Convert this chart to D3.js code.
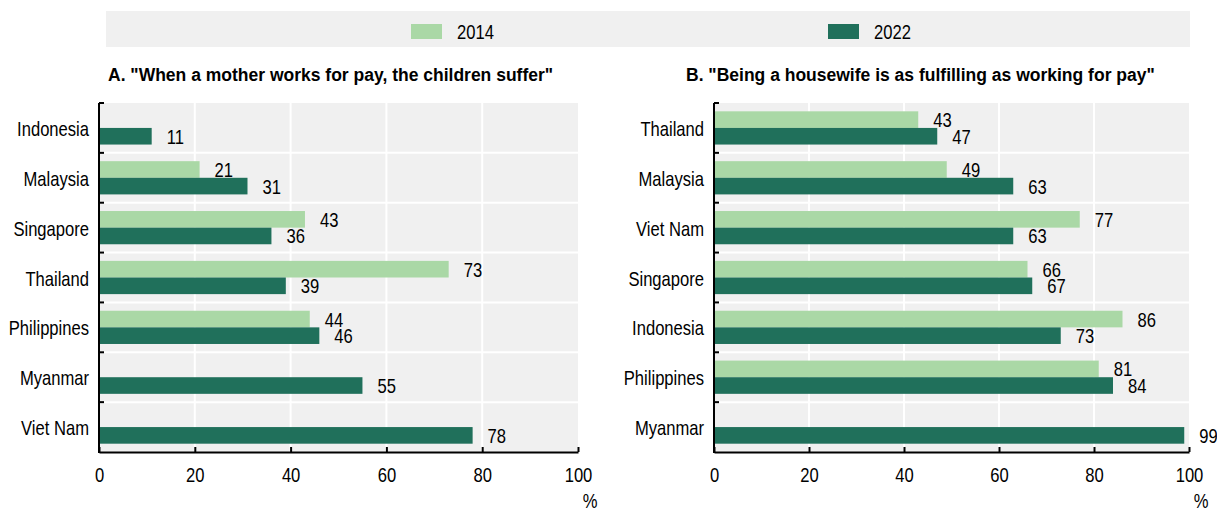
<!DOCTYPE html>
<html>
<head>
<meta charset="utf-8">
<script src="https://cdn.jsdelivr.net/npm/d3@7"></script>
<style>
  body { margin: 0; background: #fff; }
  svg text { font-family: "Liberation Sans", Arial, sans-serif; fill: #000; }
</style>
</head>
<body>
<div id="chart"></div>
<script>
//========================
//   Data
//========================
var years = ["2014", "2022"];

var catsA = ["Indonesia", "Malaysia", "Singapore", "Thailand", "Philippines", "Myanmar", "Viet Nam"];
var valsA2014 = [null, 21, 43, 73, 44, null, null];
var valsA2022 = [11, 31, 36, 39, 46, 55, 78];

var catsB = ["Thailand", "Malaysia", "Viet Nam", "Singapore", "Indonesia", "Philippines", "Myanmar"];
var valsB2014 = [43, 49, 77, 66, 86, 81, null];
var valsB2022 = [47, 63, 63, 67, 73, 84, 99];

var xTicks = [0, 20, 40, 60, 80, 100];

var titleA = "A. \"When a mother works for pay, the children suffer\"";
var titleB = "B. \"Being a housewife is as fulfilling as working for pay\"";

//========================
//   Setup
//========================
var width = 1217, height = 511;
var colors = { "2014": "#aad8a6", "2022": "#20705b" };
var bgGray = "#f0f0f0";
var narrow = 0.83;//No narrow font installed, so squeeze the regular one
var fontSize = 20;

var svg = d3.select("#chart").append("svg")
  .attr("width", width)
  .attr("height", height);

//Text in a condensed style, placed with a transform
function narrowText(parent, x, y, str, anchor) {
  return parent.append("text")
    .attr("transform", "translate(" + x + "," + y + ") scale(" + narrow + ",1)")
    .attr("text-anchor", anchor || "start")
    .attr("font-size", fontSize)
    .text(str);
}

//Legend box across the top
svg.append("rect")
  .attr("x", 106).attr("y", 11)
  .attr("width", 1084).attr("height", 36)
  .attr("fill", bgGray);

var legendX = { "2014": 411, "2022": 828 };
years.forEach(function(y) {
  svg.append("rect")
    .attr("x", legendX[y]).attr("y", 24)
    .attr("width", 31).attr("height", 15)
    .attr("fill", colors[y]);
  narrowText(svg, legendX[y] + 46, 39, y);
});

//Draws one panel
function drawPanel(opts) {
  var x = d3.scaleLinear().domain([0, 100]).range([opts.x0, opts.x1]);
  var y = d3.scaleBand().domain(opts.cats).range([103, 452]);
  var yInner = d3.scaleBand().domain(years).range([0, y.step()]).paddingOuter(0.5);

  var g = svg.append("g");

  //Title
  g.append("text")
    .attr("x", opts.titleX).attr("y", 81)
    .attr("font-size", 17.5)
    .attr("font-weight", "bold")
    .text(opts.title);

  //Plot background
  g.append("rect")
    .attr("x", x(0)).attr("y", 103)
    .attr("width", x(100) - x(0)).attr("height", 452 - 103)
    .attr("fill", bgGray);

  //Vertical grid lines
  g.selectAll(".vgrid").data([20, 40, 60, 80]).enter().append("line")
    .attr("x1", function(d) { return x(d); })
    .attr("x2", function(d) { return x(d); })
    .attr("y1", 103).attr("y2", 452)
    .attr("stroke", "#fff").attr("stroke-width", 2);

  //Horizontal grid lines between categories
  g.selectAll(".hgrid").data(opts.cats.slice(1)).enter().append("line")
    .attr("x1", x(0)).attr("x2", x(100))
    .attr("y1", function(d) { return y(d); })
    .attr("y2", function(d) { return y(d); })
    .attr("stroke", "#fff").attr("stroke-width", 2);

  //Bars and value labels
  var rows = opts.cats.map(function(c, i) {
    return { cat: c, vals: { "2014": opts.v2014[i], "2022": opts.v2022[i] } };
  });
  rows.forEach(function(r) {
    years.forEach(function(yr) {
      var v = r.vals[yr];
      if (v == null) return;
      var by = y(r.cat) + yInner(yr);
      g.append("rect")
        .attr("x", x(0)).attr("y", by)
        .attr("width", x(v) - x(0)).attr("height", yInner.bandwidth())
        .attr("fill", colors[yr]);
      narrowText(g, x(v) + 15, by + yInner.bandwidth() / 2 + 7.5, v);
    });
  });

  //Category labels
  opts.cats.forEach(function(c) {
    narrowText(g, x(0) - 10, y(c) + y.step() / 2 + 8, c, "end");
  });

  //Y axis: line with inward ticks at category boundaries
  g.append("line")
    .attr("x1", x(0)).attr("x2", x(0)).attr("y1", 103).attr("y2", 453)
    .attr("stroke", "#000").attr("stroke-width", 2);
  g.selectAll(".ytick").data(opts.cats).enter().append("line")
    .attr("x1", x(0)).attr("x2", x(0) + 5)
    .attr("y1", function(d) { return y(d); })
    .attr("y2", function(d) { return y(d); })
    .attr("stroke", "#000").attr("stroke-width", 2);

  //X axis with inward ticks
  var xAxis = d3.axisBottom(x).tickValues(xTicks).tickSizeInner(-5).tickSizeOuter(0).tickPadding(16);
  var ax = g.append("g").attr("transform", "translate(0,452)").call(xAxis);
  ax.attr("font-family", null).attr("font-size", null);
  ax.select(".domain").attr("stroke", "#000").attr("stroke-width", 2);
  ax.selectAll(".tick line").attr("stroke", "#000").attr("stroke-width", 2);
  ax.selectAll(".tick text")
    .attr("font-size", fontSize)
    .attr("fill", "#000")
    .attr("transform", "scale(" + narrow + ",1)");

  //Unit label
  narrowText(g, x(100) + 12, 508, "%", "middle");
}

drawPanel({ cats: catsA, v2014: valsA2014, v2022: valsA2022, x0: 99, x1: 578, title: titleA, titleX: 108 });
drawPanel({ cats: catsB, v2014: valsB2014, v2022: valsB2022, x0: 714, x1: 1189, title: titleB, titleX: 686 });
</script>
</body>
</html>
